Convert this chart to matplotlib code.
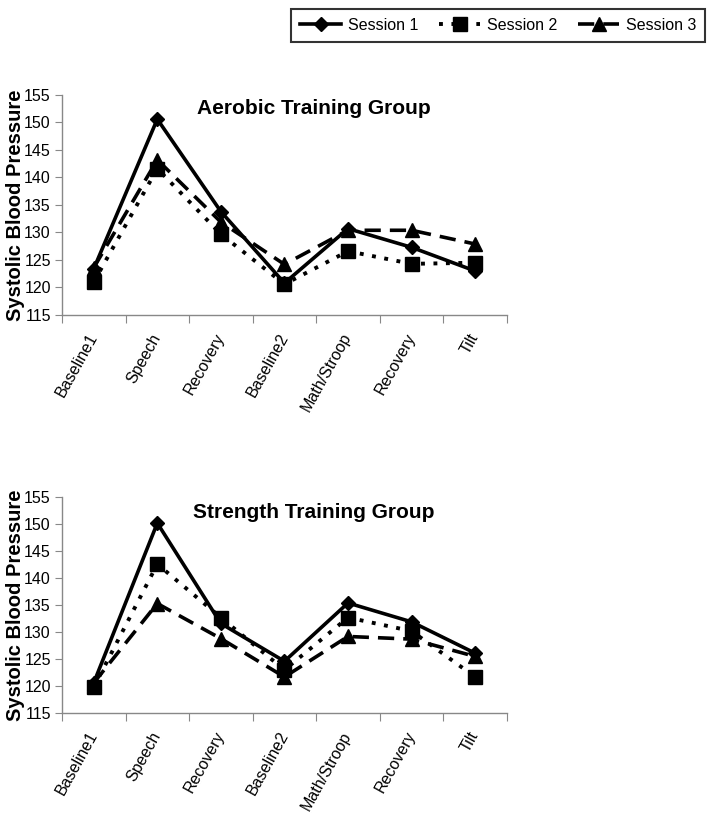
import matplotlib
matplotlib.use("Agg")
import matplotlib.pyplot as plt
from matplotlib.lines import Line2D

categories = ["Baseline1", "Speech", "Recovery", "Baseline2", "Math/Stroop", "Recovery", "Tilt"]
series_names = ["Session 1", "Session 2", "Session 3"]

aerobic_s1 = [123.4, 150.6, 133.8, 120.8, 130.7, 127.3, 123.0]
aerobic_s2 = [121.0, 141.6, 129.7, 120.6, 126.6, 124.3, 124.5]
aerobic_s3 = [123.6, 143.2, 131.9, 124.2, 130.4, 130.4, 127.9]

strength_s1 = [120.6, 150.2, 131.6, 124.6, 135.4, 131.9, 126.1]
strength_s2 = [119.8, 142.6, 132.7, 123.0, 132.7, 130.2, 121.7]
strength_s3 = [120.6, 135.3, 128.8, 121.7, 129.2, 128.7, 125.5]

yticks = [115, 120, 125, 130, 135, 140, 145, 150, 155]

plt.rcParams['font.family'] = ['Liberation Sans', 'DejaVu Sans']

fig = plt.figure(figsize=(7.12, 8.15), dpi=100)

styles = [
    dict(color='black', linestyle='-', linewidth=2.6, marker='D', markersize=7),
    dict(color='black', linestyle=(0, (1, 2.2)), linewidth=2.8, marker='s', markersize=10),
    dict(color='black', linestyle=(0, (4.5, 2.5)), linewidth=2.6, marker='^', markersize=10),
]

def draw(ax, data, title, title_y):
    x = list(range(len(categories)))
    for vals, st in zip(data, styles):
        ax.plot(x, vals, **st)
    ax.set_xlim(-0.5, len(categories) - 0.5)
    ax.set_ylim(115, 155)
    ax.set_yticks(yticks)
    ax.set_yticklabels([str(v) for v in yticks], fontsize=11.5)
    ax.set_xticks([i - 0.5 for i in range(len(categories) + 1)], minor=False)
    ax.set_xticklabels([])
    ax.set_xticks(x, minor=True)
    ax.set_xticklabels(categories, minor=True, rotation=61, ha='right', va='center',
                       rotation_mode='anchor', fontsize=11.5)
    ax.tick_params(axis='x', which='minor', length=0, pad=14)
    ax.tick_params(axis='x', which='major', length=6, color='#888888', direction='out')
    ax.tick_params(axis='y', length=5, color='#888888', direction='out', pad=3)
    for s in ['top', 'right']:
        ax.spines[s].set_visible(False)
    for s in ['left', 'bottom']:
        ax.spines[s].set_color('#888888')
        ax.spines[s].set_linewidth(1.0)
    ax.set_ylabel("Systolic Blood Pressure", fontsize=14.5, fontweight='bold')
    ax.yaxis.set_label_coords(-0.083, 0.5)
    ax.text(0.566, title_y, title, transform=ax.transAxes, ha='center', va='center',
            fontsize=15, fontweight='bold')

ax1 = fig.add_axes([0.087, 0.6135, 0.625, 0.27])
draw(ax1, [aerobic_s1, aerobic_s2, aerobic_s3], "Aerobic Training Group", 0.94)

ax2 = fig.add_axes([0.087, 0.125, 0.625, 0.265])
draw(ax2, [strength_s1, strength_s2, strength_s3], "Strength Training Group", 0.93)

handles = [Line2D([], [], **st) for st in styles]
leg = fig.legend(handles, series_names, loc='upper right', bbox_to_anchor=(0.99, 0.989),
                 borderaxespad=0, ncol=3, frameon=True, fancybox=False, fontsize=11.5,
                 handlelength=2.6, columnspacing=1.3, handletextpad=0.4, borderpad=0.55)
leg.get_frame().set_edgecolor('black')
leg.get_frame().set_linewidth(1.5)

fig.savefig("out.png", dpi=100)
